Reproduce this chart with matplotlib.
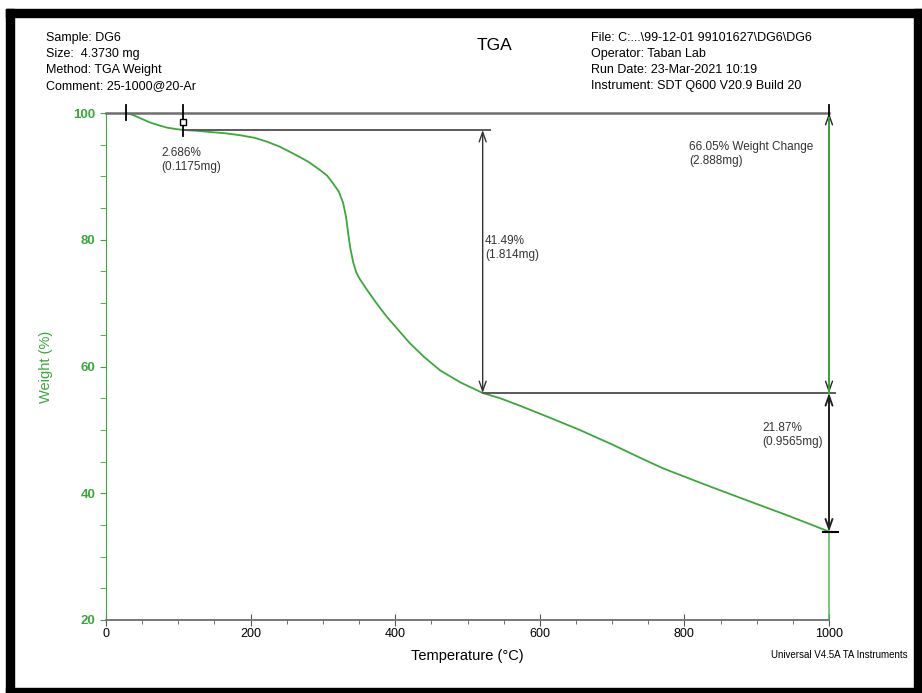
import matplotlib
matplotlib.use("Agg")
import matplotlib.pyplot as plt
from matplotlib.patches import Rectangle
from matplotlib.ticker import MultipleLocator

plt.rcParams["font.family"] = ["Liberation Sans", "DejaVu Sans"]

# TGA curve
temp = [28, 37, 45, 53, 61, 72, 84, 95, 107, 125, 144, 165, 185, 205, 222,
        240, 259, 280, 296, 306, 314, 322, 328, 332, 335, 338, 342, 346, 351,
        361, 374, 388, 404, 420, 440, 462, 490, 521, 545, 575, 610, 655, 702,
        735, 771, 830, 886, 945, 1000]
weight = [100.0, 99.7, 99.3, 98.9, 98.5, 98.1, 97.7, 97.5, 97.31, 97.2, 97.0,
          96.8, 96.5, 96.1, 95.5, 94.7, 93.6, 92.3, 91.0, 90.1, 88.9, 87.6,
          85.8, 83.6, 81.0, 78.6, 76.4, 74.9, 73.8, 72.1, 70.0, 67.9, 65.8,
          63.7, 61.5, 59.4, 57.5, 55.82, 55.0, 53.7, 52.1, 50.0, 47.6, 45.8,
          43.9, 41.3, 38.9, 36.4, 33.95]

header_left = ["Sample: DG6", "Size:  4.3730 mg", "Method: TGA Weight",
               "Comment: 25-1000@20-Ar"]
header_right = ["File: C:...\\99-12-01 99101627\\DG6\\DG6", "Operator: Taban Lab",
                "Run Date: 23-Mar-2021 10:19",
                "Instrument: SDT Q600 V20.9 Build 20"]

# step analysis results
step_temps = [28, 107, 521, 1000]
step_weights = [100.0, 97.31, 55.82, 33.95]
step_labels = ["2.686%\n(0.1175mg)", "41.49%\n(1.814mg)",
               "66.05% Weight Change\n(2.888mg)", "21.87%\n(0.9565mg)"]

W, H = 922, 693
GREEN = "#3aa83a"
GRAY = "#5a5a5a"
DARK = "#333333"


def fx(px):
    return px / W


def fy(py):
    return 1 - py / H


fig = plt.figure(figsize=(W / 100, H / 100), dpi=100)
fig.patch.set_facecolor("white")

# black frame around the sheet
for x0, y0, w, h in [(6, 9, 916, 8), (6, 9, 8, 684), (914, 9, 8, 684), (6, 688, 916, 5)]:
    fig.patches.append(Rectangle((fx(x0), fy(y0 + h)), w / W, h / H,
                                 transform=fig.transFigure, color="black", zorder=0))

ax = fig.add_axes([fx(106), fy(620), 723 / W, 507 / H])
ax.set_xlim(0, 1000)
ax.set_ylim(20, 100)

ax.plot(temp, weight, color=GREEN, lw=1.3, zorder=3, clip_on=False)
# end of run: vertical trace at 1000 °C
ax.plot([1000, 1000], [20, step_weights[2]], color="#55b455", lw=1.1, zorder=2,
        clip_on=False)
ax.plot([1000, 1000], [step_weights[2], 100], color=GREEN, lw=1.3, zorder=6,
        clip_on=False)

# spines and ticks
for s in ["top", "right"]:
    ax.spines[s].set_visible(False)
ax.spines["left"].set_color(GREEN)
ax.spines["bottom"].set_color("#777777")
ax.spines["bottom"].set_linewidth(1.4)
ax.xaxis.set_major_locator(MultipleLocator(200))
ax.xaxis.set_minor_locator(MultipleLocator(50))
ax.yaxis.set_major_locator(MultipleLocator(20))
ax.yaxis.set_minor_locator(MultipleLocator(5))
ax.tick_params(axis="x", which="major", direction="inout", length=8, color="#555555",
               labelsize=9, pad=2)
ax.tick_params(axis="x", which="minor", direction="out", length=3, color="#555555")
ax.tick_params(axis="y", which="both", direction="out", length=4, color=GREEN,
               labelcolor=GREEN, labelsize=9.5)
for lbl in ax.get_yticklabels():
    lbl.set_fontweight("bold")

# step lines
ax.plot([0, 1000], [100, 100], color="#6e6e6e", lw=1.8, zorder=4, clip_on=False)
ax.plot([step_temps[1], 531], [step_weights[1]] * 2, color=GRAY, lw=1.4, zorder=4)
ax.plot([step_temps[2], 1008], [step_weights[2]] * 2, color=GRAY, lw=1.4, zorder=4,
        clip_on=False)

# step markers
ax.plot([step_temps[0]] * 2, [101.2, 98.9], color="black", lw=1.3, zorder=5, clip_on=False)
ax.plot([step_temps[1]] * 2, [101.3, 96.3], color="black", lw=1.3, zorder=5, clip_on=False)
ax.plot([step_temps[1]], [98.6], marker="s", ms=4.5, mfc="white", mec="black",
        mew=1.0, zorder=6)
ax.plot([1000, 1000], [101.2, 99.5], color="black", lw=1.3, zorder=7, clip_on=False)
ax.plot([992, 1012], [step_weights[3]] * 2, color="black", lw=1.5, zorder=5,
        clip_on=False)

arrow = dict(arrowstyle="<->,head_length=0.7,head_width=0.25", color=DARK, lw=1.0,
             shrinkA=0, shrinkB=0)
ax.annotate("", xy=(step_temps[2], step_weights[1]), xytext=(step_temps[2], step_weights[2]),
            arrowprops=arrow, zorder=5)
ax.annotate("", xy=(1000, 100), xytext=(1000, step_weights[2]),
            arrowprops=dict(arrow, color="#222222"), zorder=5)
ax.annotate("", xy=(1000, step_weights[2]), xytext=(1000, step_weights[3]),
            arrowprops=dict(arrow, lw=1.4, color="#222222"), zorder=5)

# step labels
label_pos = [(161, 160), (485, 248), (689, 154), (762, 435)]
for (px, py), text in zip(label_pos, step_labels):
    fig.text(fx(px), fy(py), text, fontsize=8.5, color="#333333", ha="left",
             va="center", linespacing=1.3)

# header
for i, line in enumerate(header_left):
    fig.text(fx(46), fy(38 + i * 16), line, fontsize=9, va="center", ha="left")
for i, line in enumerate(header_right):
    fig.text(fx(591), fy(38 + i * 16), line, fontsize=9, va="center", ha="left")
fig.text(fx(494), fy(45), "TGA", fontsize=12.5, va="center", ha="center")

ax.set_xlabel("Temperature (°C)", fontsize=10.5, labelpad=6)
fig.text(fx(46), fy(367), "Weight (%)", fontsize=10.5, color=GREEN, rotation=90,
         ha="center", va="center")
fig.text(fx(908), fy(655), "Universal V4.5A TA Instruments", fontsize=7,
         ha="right", va="center")

plt.savefig("out.png", dpi=100)
plt.close()
